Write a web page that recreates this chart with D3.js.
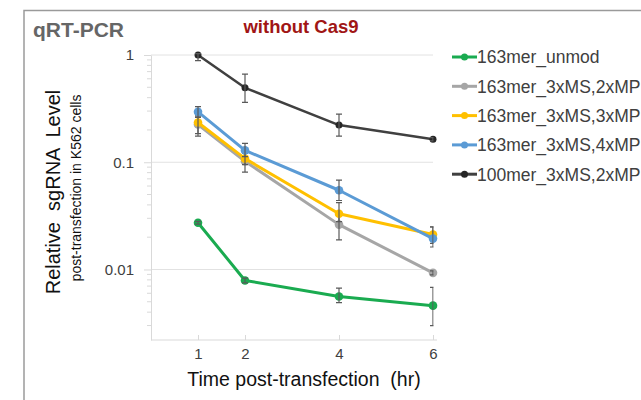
<!DOCTYPE html>
<html>
<head>
<meta charset="utf-8">
<script src="https://cdn.jsdelivr.net/npm/d3@7"></script>
<style>
  body { margin: 0; background: #fff; }
  svg text { font-family: "Liberation Sans", Arial, sans-serif; }
  .axis path, .axis line { stroke: #d9d9d9; }
  .axis text { fill: #404040; font-size: 15px; }
</style>
</head>
<body>
<div id="chart-area"></div>
<script>

// data
var times = [1, 2, 4, 6];
var seriesNames = ["163mer_unmod", "163mer_3xMS,2xMP", "163mer_3xMS,3xMP", "163mer_3xMS,4xMP", "100mer_3xMS,2xMP"];
var seriesColors = ["#1aab50", "#a6a6a6", "#ffc000", "#5b9bd5", "#404040"];

var unmod   = [0.0273, 0.0079, 0.0056, 0.0046];
var ms2mp   = [0.225, 0.102, 0.0262, 0.0093];
var ms3mp   = [0.235, 0.108, 0.0331, 0.0212];
var ms4mp   = [0.295, 0.129, 0.0548, 0.0194];
var mer100  = [1.0, 0.494, 0.222, 0.164];

// error bar ends (low / high)
var unmodLo  = [0.0265, 0.0075, 0.0049, 0.0030];
var unmodHi  = [0.0281, 0.0083, 0.0067, 0.0068];
var ms2mpLo  = [0.185, 0.081, 0.0189, 0.0089];
var ms2mpHi  = [0.265, 0.121, 0.034, 0.0097];
var ms3mpLo  = [0.175, 0.095, 0.028, 0.0175];
var ms3mpHi  = [0.275, 0.121, 0.042, 0.025];
var ms4mpLo  = [0.262, 0.113, 0.044, 0.0162];
var ms4mpHi  = [0.33, 0.150, 0.068, 0.0249];
var mer100Lo = [0.885, 0.361, 0.175, 0.158];
var mer100Hi = [1.03, 0.664, 0.281, 0.170];

var xTicks = [1, 2, 4, 6];
var yTicks = [0.01, 0.1, 1];


LineChart = function(_parentElement){
    this.parentElement = _parentElement;
    this.values = [unmod, ms2mp, ms3mp, ms4mp, mer100];
    this.lows = [unmodLo, ms2mpLo, ms3mpLo, ms4mpLo, mer100Lo];
    this.highs = [unmodHi, ms2mpHi, ms3mpHi, ms4mpHi, mer100Hi];
    this.initVis();
}

LineChart.prototype.initVis = function(){
    var vis = this;

    vis.width = 641;
    vis.height = 400;
    vis.margin = {top: 55, left: 151};
    vis.plotW = 282;
    vis.plotH = 285;

    vis.svg = d3.select("#" + vis.parentElement).append("svg")
        .attr("width", vis.width)
        .attr("height", vis.height);

    // outer frame
    vis.svg.append("path")
        .attr("d", "M24,400 V10.5 H641")
        .attr("fill", "none")
        .attr("stroke", "#9a9a9a")
        .attr("stroke-width", 1.5);

    vis.svg.append("text")
        .attr("x", 33)
        .attr("y", 37)
        .attr("fill", "#666")
        .style("font-size", "21px")
        .style("font-weight", "bold")
        .text("qRT-PCR");

    vis.svg.append("text")
        .attr("x", 301)
        .attr("y", 33)
        .attr("text-anchor", "middle")
        .attr("fill", "#a01515")
        .style("font-size", "18.5px")
        .style("font-weight", "bold")
        .text("without Cas9");

    vis.g = vis.svg.append("g")
        .attr("transform", "translate(" + vis.margin.left + "," + vis.margin.top + ")");

    vis.x = d3.scaleLinear()
        .domain([0, 6])
        .range([0, vis.plotW]);

    vis.y = d3.scaleLog()
        .domain([0.0022, 1])
        .range([vis.plotH, 0]);

    vis.updateVis();
}

LineChart.prototype.updateVis = function(){
    var vis = this;

    // gridlines
    vis.g.selectAll(".grid")
        .data(yTicks)
        .enter().append("line")
        .attr("class", "grid")
        .attr("x1", 0)
        .attr("x2", vis.plotW)
        .attr("y1", function(d){ return vis.y(d); })
        .attr("y2", function(d){ return vis.y(d); })
        .attr("stroke", "#e2e2e2")
        .attr("stroke-width", 1);

    // minor ticks on the log axis
    var minor = vis.y.ticks().filter(function(d){ return yTicks.indexOf(d) < 0 && d >= vis.y.domain()[0]; });
    vis.g.selectAll(".minor")
        .data(minor)
        .enter().append("line")
        .attr("class", "minor")
        .attr("x1", -4)
        .attr("x2", 0)
        .attr("y1", function(d){ return vis.y(d); })
        .attr("y2", function(d){ return vis.y(d); })
        .attr("stroke", "#d9d9d9");

    vis.yAxis = d3.axisLeft(vis.y)
        .tickValues(yTicks)
        .tickFormat(function(d){ return d3.format("")(d); })
        .tickSizeInner(7)
        .tickSizeOuter(0)
        .tickPadding(10);

    vis.g.append("g")
        .attr("class", "axis y-axis")
        .call(vis.yAxis);

    vis.xAxis = d3.axisBottom(vis.x)
        .tickValues(xTicks)
        .tickFormat(d3.format("d"))
        .tickSizeInner(-5)
        .tickSizeOuter(0)
        .tickPadding(8);

    vis.g.append("g")
        .attr("class", "axis x-axis")
        .attr("transform", "translate(0," + vis.plotH + ")")
        .call(vis.xAxis);

    vis.g.select(".x-axis .domain").attr("d", "M0,0H" + (vis.plotW + 4));

    // error bar clip (caps get cut at the right edge of the plot)
    vis.svg.append("clipPath")
        .attr("id", "plot-clip")
        .append("rect")
        .attr("x", -10)
        .attr("y", -10)
        .attr("width", vis.plotW + 10.5)
        .attr("height", vis.plotH + 20);

    vis.line = d3.line()
        .x(function(d){ return vis.x(d.t); })
        .y(function(d){ return vis.y(d.v); });

    vis.values.forEach(function(vals, i){
        var pts = times.map(function(t, j){
            return {t: t, v: vals[j], lo: vis.lows[i][j], hi: vis.highs[i][j]};
        });
        var color = seriesColors[i];
        var isBlack = (i == 4);

        var sg = vis.g.append("g").attr("class", "series");

        sg.append("path")
            .datum(pts)
            .attr("d", vis.line)
            .attr("fill", "none")
            .attr("stroke", color)
            .attr("stroke-width", isBlack ? 2.5 : 3)
            .attr("stroke-linejoin", "round");

        sg.selectAll("circle")
            .data(pts)
            .enter().append("circle")
            .attr("cx", function(d){ return vis.x(d.t); })
            .attr("cy", function(d){ return vis.y(d.v); })
            .attr("r", isBlack ? 3.5 : 4.3)
            .attr("fill", isBlack ? "#262626" : color);

        var eb = sg.append("g").attr("clip-path", "url(#plot-clip)");
        eb.selectAll(".err")
            .data(pts)
            .enter().append("path")
            .attr("class", "err")
            .attr("d", function(d){
                var cx = vis.x(d.t), y1 = vis.y(d.hi), y2 = vis.y(d.lo);
                return "M" + (cx - 3) + "," + y1 + "H" + (cx + 3) +
                       "M" + cx + "," + y1 + "V" + y2 +
                       "M" + (cx - 3) + "," + y2 + "H" + (cx + 3);
            })
            .attr("fill", "none")
            .attr("stroke", "#5a5a5a")
            .attr("stroke-width", 1.2);
    });

    // axis titles
    vis.svg.append("text")
        .attr("transform", "translate(60,192) rotate(-90)")
        .attr("text-anchor", "middle")
        .attr("fill", "#111")
        .style("font-size", "20px")
        .style("white-space", "pre")
        .text("Relative  sgRNA  Level");

    vis.svg.append("text")
        .attr("transform", "translate(81,188) rotate(-90)")
        .attr("text-anchor", "middle")
        .attr("fill", "#111")
        .style("font-size", "14px")
        .text("post-transfection in K562 cells");

    vis.svg.append("text")
        .attr("x", 304)
        .attr("y", 386)
        .attr("text-anchor", "middle")
        .attr("fill", "#111")
        .style("font-size", "19.5px")
        .style("white-space", "pre")
        .text("Time post-transfection  (hr)");

    // legend
    var legend = vis.svg.selectAll(".legend")
        .data(seriesNames)
        .enter().append("g")
        .attr("class", "legend")
        .attr("transform", function(d, i){ return "translate(452," + (57 + i * 29.3) + ")"; });

    legend.append("line")
        .attr("x1", 0)
        .attr("x2", 25)
        .attr("stroke", function(d, i){ return seriesColors[i]; })
        .attr("stroke-width", 3);

    legend.append("circle")
        .attr("cx", 12.5)
        .attr("r", 3.5)
        .attr("fill", function(d, i){ return i == 4 ? "#262626" : seriesColors[i]; });

    legend.append("text")
        .attr("x", 25)
        .attr("dy", "0.36em")
        .attr("fill", "#404040")
        .style("font-size", "17.5px")
        .text(function(d){ return d; });
}

var chart = new LineChart("chart-area");

</script>
</body>
</html>
